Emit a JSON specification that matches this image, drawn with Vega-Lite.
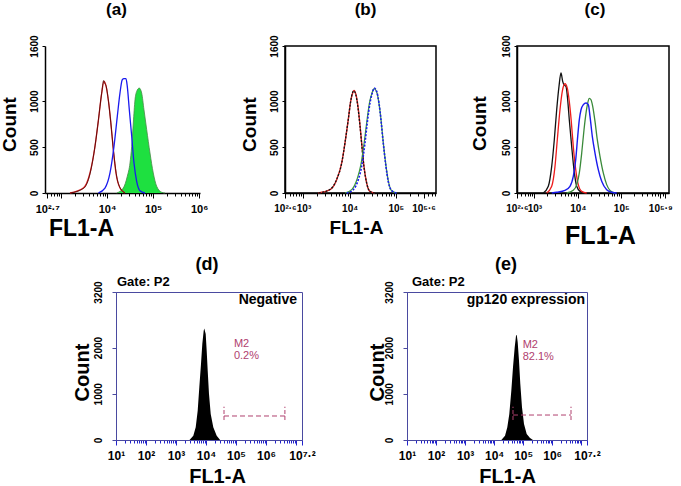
{
  "$schema": "https://vega.github.io/schema/vega-lite/v6.json",
  "padding": 0,
  "background": "white",
  "config": {
    "font": "Liberation Sans",
    "view": {"stroke": null},
    "axis": {"grid": false, "labelOverlap": false, "labelFlush": false, "labelBound": false, "labelColor": "black", "titleColor": "black", "tickColor": "black", "domainColor": "black", "labelFont": "Liberation Sans", "titleFont": "Liberation Sans"},
    "title": {"fontSize": 17, "fontWeight": "bold", "font": "Liberation Sans", "frame": "group", "offset": 16, "color": "black"}
  },
  "bounds": "flush",
  "spacing": 246,
  "resolve": {"scale": {"x": "independent", "y": "independent"}},
  "datasets": {
    "a_black": [{"log_fl1":3.2,"count":0},{"log_fl1":3.49,"count":50},{"log_fl1":3.63,"count":210},{"log_fl1":3.74,"count":520},{"log_fl1":3.81,"count":790},{"log_fl1":3.88,"count":1080},{"log_fl1":3.925,"count":1225},{"log_fl1":3.95,"count":1190},{"log_fl1":3.975,"count":1170},{"log_fl1":4.03,"count":1000},{"log_fl1":4.08,"count":770},{"log_fl1":4.14,"count":460},{"log_fl1":4.2,"count":210},{"log_fl1":4.29,"count":50},{"log_fl1":4.39,"count":0}],
    "a_red": [{"log_fl1":3.193,"count":0},{"log_fl1":3.483,"count":54},{"log_fl1":3.628,"count":218},{"log_fl1":3.737,"count":508},{"log_fl1":3.809,"count":783},{"log_fl1":3.883,"count":1088},{"log_fl1":3.933,"count":1215},{"log_fl1":3.97,"count":1180},{"log_fl1":4.026,"count":1015},{"log_fl1":4.078,"count":783},{"log_fl1":4.135,"count":471},{"log_fl1":4.193,"count":218},{"log_fl1":4.28,"count":54},{"log_fl1":4.389,"count":0}],
    "a_blue": [{"log_fl1":3.809,"count":0},{"log_fl1":3.954,"count":54},{"log_fl1":4.063,"count":218},{"log_fl1":4.15,"count":508},{"log_fl1":4.222,"count":834},{"log_fl1":4.28,"count":1088},{"log_fl1":4.33,"count":1233},{"log_fl1":4.367,"count":1244},{"log_fl1":4.411,"count":1244},{"log_fl1":4.439,"count":1161},{"log_fl1":4.483,"count":906},{"log_fl1":4.535,"count":617},{"log_fl1":4.585,"count":326},{"log_fl1":4.643,"count":127},{"log_fl1":4.715,"count":25},{"log_fl1":4.824,"count":0}],
    "a_green": [{"log_fl1":4.209,"count":0},{"log_fl1":4.352,"count":54},{"log_fl1":4.439,"count":181},{"log_fl1":4.498,"count":326},{"log_fl1":4.535,"count":508},{"log_fl1":4.57,"count":762},{"log_fl1":4.607,"count":1015},{"log_fl1":4.643,"count":1106},{"log_fl1":4.7,"count":1142},{"log_fl1":4.752,"count":1088},{"log_fl1":4.802,"count":906},{"log_fl1":4.861,"count":689},{"log_fl1":4.933,"count":435},{"log_fl1":5.004,"count":218},{"log_fl1":5.078,"count":73},{"log_fl1":5.187,"count":8},{"log_fl1":5.259,"count":0}],
    "b_red": [{"log_fl1":3.321,"count":0},{"log_fl1":3.574,"count":36},{"log_fl1":3.719,"count":145},{"log_fl1":3.827,"count":326},{"log_fl1":3.899,"count":544},{"log_fl1":3.97,"count":798},{"log_fl1":4.022,"count":997},{"log_fl1":4.065,"count":1088},{"log_fl1":4.094,"count":1117},{"log_fl1":4.137,"count":1070},{"log_fl1":4.18,"count":943},{"log_fl1":4.223,"count":743},{"log_fl1":4.267,"count":508},{"log_fl1":4.31,"count":290},{"log_fl1":4.368,"count":109},{"log_fl1":4.44,"count":18},{"log_fl1":4.548,"count":0}],
    "b_black": [{"log_fl1":3.33,"count":0},{"log_fl1":3.58,"count":40},{"log_fl1":3.72,"count":150},{"log_fl1":3.83,"count":330},{"log_fl1":3.9,"count":550},{"log_fl1":3.97,"count":800},{"log_fl1":4.02,"count":990},{"log_fl1":4.06,"count":1090},{"log_fl1":4.09,"count":1110},{"log_fl1":4.13,"count":1075},{"log_fl1":4.175,"count":950},{"log_fl1":4.22,"count":750},{"log_fl1":4.265,"count":510},{"log_fl1":4.31,"count":285},{"log_fl1":4.37,"count":105},{"log_fl1":4.44,"count":15},{"log_fl1":4.55,"count":0}],
    "b_green": [{"log_fl1":3.9,"count":0},{"log_fl1":4.05,"count":40},{"log_fl1":4.16,"count":150},{"log_fl1":4.24,"count":300},{"log_fl1":4.315,"count":550},{"log_fl1":4.37,"count":770},{"log_fl1":4.43,"count":985},{"log_fl1":4.485,"count":1090},{"log_fl1":4.53,"count":1135},{"log_fl1":4.585,"count":1100},{"log_fl1":4.635,"count":975},{"log_fl1":4.68,"count":795},{"log_fl1":4.73,"count":540},{"log_fl1":4.79,"count":285},{"log_fl1":4.84,"count":125},{"log_fl1":4.91,"count":25},{"log_fl1":5.02,"count":0}],
    "b_blue": [{"log_fl1":3.935,"count":0},{"log_fl1":4.078,"count":36},{"log_fl1":4.187,"count":145},{"log_fl1":4.26,"count":290},{"log_fl1":4.332,"count":544},{"log_fl1":4.381,"count":762},{"log_fl1":4.44,"count":979},{"log_fl1":4.49,"count":1088},{"log_fl1":4.533,"count":1142},{"log_fl1":4.585,"count":1106},{"log_fl1":4.635,"count":979},{"log_fl1":4.678,"count":798},{"log_fl1":4.728,"count":544},{"log_fl1":4.786,"count":290},{"log_fl1":4.836,"count":127},{"log_fl1":4.909,"count":25},{"log_fl1":5.018,"count":0}],
    "c_black": [{"log_fl1":3.206,"count":0},{"log_fl1":3.321,"count":73},{"log_fl1":3.399,"count":290},{"log_fl1":3.459,"count":580},{"log_fl1":3.514,"count":906},{"log_fl1":3.567,"count":1161},{"log_fl1":3.613,"count":1306},{"log_fl1":3.652,"count":1215},{"log_fl1":3.682,"count":1178},{"log_fl1":3.728,"count":1161},{"log_fl1":3.767,"count":1015},{"log_fl1":3.804,"count":798},{"log_fl1":3.859,"count":508},{"log_fl1":3.912,"count":254},{"log_fl1":3.975,"count":73},{"log_fl1":4.051,"count":18},{"log_fl1":4.166,"count":0}],
    "c_red": [{"log_fl1":3.284,"count":0},{"log_fl1":3.399,"count":73},{"log_fl1":3.475,"count":290},{"log_fl1":3.528,"count":580},{"log_fl1":3.59,"count":906},{"log_fl1":3.643,"count":1106},{"log_fl1":3.705,"count":1189},{"log_fl1":3.758,"count":1142},{"log_fl1":3.804,"count":997},{"log_fl1":3.85,"count":780},{"log_fl1":3.896,"count":508},{"log_fl1":3.952,"count":254},{"log_fl1":4.011,"count":91},{"log_fl1":4.09,"count":18},{"log_fl1":4.205,"count":0}],
    "c_blue": [{"log_fl1":3.4,"count":0},{"log_fl1":3.514,"count":8},{"log_fl1":3.705,"count":29},{"log_fl1":3.82,"count":73},{"log_fl1":3.896,"count":181},{"log_fl1":3.952,"count":362},{"log_fl1":3.998,"count":617},{"log_fl1":4.035,"count":798},{"log_fl1":4.074,"count":906},{"log_fl1":4.127,"count":961},{"log_fl1":4.189,"count":979},{"log_fl1":4.242,"count":961},{"log_fl1":4.281,"count":834},{"log_fl1":4.334,"count":617},{"log_fl1":4.396,"count":435},{"log_fl1":4.472,"count":254},{"log_fl1":4.55,"count":127},{"log_fl1":4.665,"count":36},{"log_fl1":4.781,"count":8},{"log_fl1":4.896,"count":0}],
    "c_green": [{"log_fl1":3.744,"count":0},{"log_fl1":3.896,"count":29},{"log_fl1":3.975,"count":91},{"log_fl1":4.035,"count":218},{"log_fl1":4.09,"count":435},{"log_fl1":4.143,"count":689},{"log_fl1":4.189,"count":870},{"log_fl1":4.228,"count":979},{"log_fl1":4.265,"count":1030},{"log_fl1":4.304,"count":1015},{"log_fl1":4.343,"count":943},{"log_fl1":4.396,"count":780},{"log_fl1":4.449,"count":580},{"log_fl1":4.511,"count":399},{"log_fl1":4.587,"count":218},{"log_fl1":4.665,"count":91},{"log_fl1":4.741,"count":29},{"log_fl1":4.857,"count":0}],
    "d_black": [{"log_fl1":3.45,"count":0},{"log_fl1":3.577,"count":93},{"log_fl1":3.657,"count":274},{"log_fl1":3.723,"count":634},{"log_fl1":3.777,"count":1139},{"log_fl1":3.833,"count":1643},{"log_fl1":3.877,"count":2076},{"log_fl1":3.923,"count":2363},{"log_fl1":3.943,"count":2413},{"log_fl1":3.99,"count":2292},{"log_fl1":4.023,"count":1931},{"log_fl1":4.057,"count":1499},{"log_fl1":4.1,"count":995},{"log_fl1":4.157,"count":562},{"log_fl1":4.243,"count":274},{"log_fl1":4.357,"count":93},{"log_fl1":4.47,"count":0}],
    "e_black": [{"log_fl1":4.25,"count":0},{"log_fl1":4.376,"count":93},{"log_fl1":4.455,"count":274},{"log_fl1":4.524,"count":562},{"log_fl1":4.593,"count":1066},{"log_fl1":4.651,"count":1572},{"log_fl1":4.71,"count":2004},{"log_fl1":4.755,"count":2255},{"log_fl1":4.779,"count":2277},{"log_fl1":4.813,"count":2112},{"log_fl1":4.858,"count":1714},{"log_fl1":4.903,"count":1211},{"log_fl1":4.961,"count":707},{"log_fl1":5.03,"count":346},{"log_fl1":5.123,"count":130},{"log_fl1":5.237,"count":43},{"log_fl1":5.34,"count":0}],
    "d_gate": [{"log_fl1": 4.6, "log_fl1_end": 6.63, "count": 519}],
    "d_gate_ends": [{"log_fl1": 4.6, "count": 432, "count_top": 720}, {"log_fl1": 6.63, "count": 432, "count_top": 720}],
    "d_marker": [{"log_fl1": 4.93, "count": 2075, "label": "M2"}, {"log_fl1": 4.93, "count": 1815, "label": "0.2%"}],
    "d_sample": [{"log_fl1": 7.2, "count": 3027, "label": "Negative"}],
    "d_gate_name": [{"log_fl1": 1, "count": 3200, "label": "Gate: P2"}],
    "e_gate": [{"log_fl1": 4.651, "log_fl1_end": 6.649, "count": 540}],
    "e_gate_ends": [{"log_fl1": 4.651, "count": 432, "count_top": 720}, {"log_fl1": 6.649, "count": 432, "count_top": 720}],
    "e_marker": [{"log_fl1": 4.985, "count": 2055, "label": "M2"}, {"log_fl1": 4.985, "count": 1795, "label": "82.1%"}],
    "e_sample": [{"log_fl1": 7.2, "count": 3027, "label": "gp120 expression"}],
    "e_gate_name": [{"log_fl1": 1, "count": 3200, "label": "Gate: P2"}]
  },
  "vconcat": [
    {
      "bounds": "flush",
      "spacing": 0,
      "resolve": {"scale": {"x": "independent", "y": "independent"}},
      "hconcat": [
        {"width": 1, "height": 1, "data": {"values": [{}]}, "mark": {"type": "point", "opacity": 0}},
        {
          "width": 155, "height": 147,
          "title": {"text": "(a)", "dx": -6},
          "encoding": {
            "x": {"field": "log_fl1", "type": "quantitative", "scale": {"domain": [2.65, 6.02], "nice": false, "zero": false},
              "axis": {"title": "FL1-A", "values": [2.7,2.778,2.845,2.903,2.954,3,3.301,3.477,3.602,3.699,3.778,3.845,3.903,3.954,4,4.301,4.477,4.602,4.699,4.778,4.845,4.903,4.954,5,5.301,5.477,5.602,5.699,5.778,5.845,5.903,5.954,6],
                "labelExpr": "datum.value == 2.7 ? '10²·⁷' : datum.value == 4 ? '10⁴' : datum.value == 5 ? '10⁵' : datum.value == 6 ? '10⁶' : ''",
                "tickSize": {"condition": {"test": "round(datum.value) == datum.value || datum.value == 2.7", "value": 5}, "value": 3},
                "domainWidth": 1.5, "labelFontSize": 11, "labelFontWeight": "bold", "labelPadding": 5,
                "titleFontSize": 23, "titleFontWeight": "bold", "titleX": 36, "titleY": 42, "titleBaseline": "alphabetic", "titleAlign": "center"}},
            "y": {"field": "count", "type": "quantitative", "scale": {"domain": [0, 1600], "nice": false},
              "axis": {"title": "Count", "values": [0, 500, 1000, 1600], "format": "d", "labelAngle": -90, "labelAlign": "center", "labelBaseline": "bottom", "labelFontSize": 10, "labelFontWeight": "bold", "tickSize": 3, "labelPadding": 3, "domainWidth": 1.5,
                "titleFontSize": 19, "titleFontWeight": "bold", "titleAngle": -90, "titleX": -30, "titleY": 78, "titleBaseline": "alphabetic", "titleAlign": "center"}}
          },
          "layer": [
            {"data": {"name": "a_green"}, "mark": {"type": "area", "color": "#1ee040", "opacity": 1, "interpolate": "monotone", "line": {"color": "#4a8a4a", "strokeWidth": 0.8}}},
            {"data": {"name": "a_red"}, "mark": {"type": "line", "color": "#d42020", "strokeWidth": 1.3, "interpolate": "monotone"}},
            {"data": {"name": "a_black"}, "mark": {"type": "line", "color": "#3a0000", "strokeWidth": 0.9, "opacity": 0.8, "interpolate": "monotone"}},
            {"data": {"name": "a_blue"}, "mark": {"type": "line", "color": "#1a1aee", "strokeWidth": 1.3, "interpolate": "monotone"}}
          ]
        },
        {"width": 85, "height": 1, "data": {"values": [{}]}, "mark": {"type": "point", "opacity": 0}},
        {
          "width": 151, "height": 147,
          "title": {"text": "(b)", "dx": 5},
          "view": {"stroke": "black", "strokeWidth": 1.5},
          "encoding": {
            "x": {"field": "log_fl1", "type": "quantitative", "scale": {"domain": [2.6, 5.87], "nice": false, "zero": false},
              "axis": {"title": "FL1-A", "values": [2.6,2.699,2.778,2.845,2.903,2.954,3,3.301,3.477,3.602,3.699,3.778,3.845,3.903,3.954,4,4.301,4.477,4.602,4.699,4.778,4.845,4.903,4.954,5,5.301,5.477,5.6,5.699,5.778,5.845],
                "labelExpr": "datum.value == 2.6 ? '10²·⁶' : datum.value == 3 ? '10³' : datum.value == 4 ? '10⁴' : datum.value == 5 ? '10⁵' : datum.value == 5.6 ? '10⁵·⁶' : ''",
                "tickSize": {"condition": {"test": "round(datum.value) == datum.value || datum.value == 2.6 || datum.value == 5.6", "value": 5}, "value": 3},
                "domainWidth": 1.5, "labelFontSize": 10, "labelFontWeight": "bold", "labelPadding": 5,
                "titleFontSize": 19, "titleFontWeight": "bold", "titleX": 71, "titleY": 40, "titleBaseline": "alphabetic", "titleAlign": "center"}},
            "y": {"field": "count", "type": "quantitative", "scale": {"domain": [0, 1600], "nice": false},
              "axis": {"title": "Count", "values": [0, 500, 1000, 1600], "format": "d", "labelAngle": -90, "labelAlign": "center", "labelBaseline": "bottom", "labelFontSize": 10, "labelFontWeight": "bold", "tickSize": 3, "labelPadding": 3, "domainWidth": 1.5,
                "titleFontSize": 19, "titleFontWeight": "bold", "titleAngle": -90, "titleX": -30, "titleY": 78, "titleBaseline": "alphabetic", "titleAlign": "center"}}
          },
          "layer": [
            {"data": {"name": "b_red"}, "mark": {"type": "line", "color": "#d42020", "strokeWidth": 1.4, "interpolate": "monotone"}},
            {"data": {"name": "b_black"}, "mark": {"type": "line", "color": "#111111", "strokeWidth": 1.3, "strokeDash": [2, 1.5], "interpolate": "monotone"}},
            {"data": {"name": "b_green"}, "mark": {"type": "line", "color": "#3a9a3a", "strokeWidth": 1.2, "interpolate": "monotone"}},
            {"data": {"name": "b_blue"}, "mark": {"type": "line", "color": "#1a1aee", "strokeWidth": 1.6, "strokeDash": [2, 1.5], "interpolate": "monotone"}}
          ]
        },
        {"width": 81, "height": 1, "data": {"values": [{}]}, "mark": {"type": "point", "opacity": 0}},
        {
          "width": 152, "height": 147,
          "title": {"text": "(c)", "dx": 2},
          "view": {"stroke": "black", "strokeWidth": 1.5},
          "encoding": {
            "x": {"field": "log_fl1", "type": "quantitative", "scale": {"domain": [2.6, 6.1], "nice": false, "zero": false},
              "axis": {"title": "FL1-A", "values": [2.6,2.699,2.778,2.845,2.903,2.954,3,3.301,3.477,3.602,3.699,3.778,3.845,3.903,3.954,4,4.301,4.477,4.602,4.699,4.778,4.845,4.903,4.954,5,5.301,5.477,5.602,5.699,5.778,5.845,5.9,5.954,6],
                "labelExpr": "datum.value == 2.6 ? '10²·⁶' : datum.value == 3 ? '10³' : datum.value == 4 ? '10⁴' : datum.value == 5 ? '10⁵' : datum.value == 5.9 ? '10⁵·⁹' : ''",
                "tickSize": {"condition": {"test": "round(datum.value) == datum.value || datum.value == 2.6 || datum.value == 5.9", "value": 5}, "value": 3},
                "domainWidth": 1.5, "labelFontSize": 10, "labelFontWeight": "bold", "labelPadding": 5,
                "titleFontSize": 25, "titleFontWeight": "bold", "titleX": 83, "titleY": 50, "titleBaseline": "alphabetic", "titleAlign": "center"}},
            "y": {"field": "count", "type": "quantitative", "scale": {"domain": [0, 1600], "nice": false},
              "axis": {"title": "Count", "values": [0, 500, 1000, 1600], "format": "d", "labelAngle": -90, "labelAlign": "center", "labelBaseline": "bottom", "labelFontSize": 10, "labelFontWeight": "bold", "tickSize": 3, "labelPadding": 3, "domainWidth": 1.5,
                "titleFontSize": 19, "titleFontWeight": "bold", "titleAngle": -90, "titleX": -32, "titleY": 77, "titleBaseline": "alphabetic", "titleAlign": "center"}}
          },
          "layer": [
            {"data": {"name": "c_black"}, "mark": {"type": "line", "color": "#111111", "strokeWidth": 1.3, "interpolate": "monotone"}},
            {"data": {"name": "c_red"}, "mark": {"type": "line", "color": "#ee1c1c", "strokeWidth": 1.3, "interpolate": "monotone"}},
            {"data": {"name": "c_green"}, "mark": {"type": "line", "color": "#3a8a3a", "strokeWidth": 1.3, "interpolate": "monotone"}},
            {"data": {"name": "c_blue"}, "mark": {"type": "line", "color": "#1a1aee", "strokeWidth": 1.4, "interpolate": "monotone"}}
          ]
        }
      ]
    },
    {
      "bounds": "flush",
      "spacing": 0,
      "resolve": {"scale": {"x": "independent", "y": "independent"}},
      "hconcat": [
        {"width": 72, "height": 1, "data": {"values": [{}]}, "mark": {"type": "point", "opacity": 0}},
        {
          "width": 186, "height": 148,
          "title": {"text": "(d)", "dx": -2, "fontSize": 18, "offset": 2},
          "view": {"stroke": "#4a4aa0", "strokeWidth": 1},
          "encoding": {
            "x": {"field": "log_fl1", "type": "quantitative", "scale": {"domain": [1, 7.2], "nice": false, "zero": false},
              "axis": {"title": "FL1-A", "values": [1,1.301,1.477,1.602,1.699,1.778,1.845,1.903,1.954,2,2.301,2.477,2.602,2.699,2.778,2.845,2.903,2.954,3,3.301,3.477,3.602,3.699,3.778,3.845,3.903,3.954,4,4.301,4.477,4.602,4.699,4.778,4.845,4.903,4.954,5,5.301,5.477,5.602,5.699,5.778,5.845,5.903,5.954,6,6.301,6.477,6.602,6.699,6.778,6.845,6.903,6.954,7,7.2],
                "labelExpr": "datum.value == 1 ? '10¹' : datum.value == 2 ? '10²' : datum.value == 3 ? '10³' : datum.value == 4 ? '10⁴' : datum.value == 5 ? '10⁵' : datum.value == 6 ? '10⁶' : datum.value == 7.2 ? '10⁷·²' : ''",
                "tickSize": {"condition": {"test": "round(datum.value) == datum.value || datum.value == 7.2", "value": 5}, "value": 3},
                "tickColor": "#2222cc", "domainColor": "#4a4aa0", "labelFontSize": 12, "labelFontWeight": "bold", "labelPadding": 5,
                "titleFontSize": 20, "titleFontWeight": "bold", "titleX": 101, "titleY": 42, "titleBaseline": "alphabetic", "titleAlign": "center"}},
            "y": {"field": "count", "type": "quantitative", "scale": {"domain": [0, 3200], "nice": false},
              "axis": {"title": "Count", "values": [0, 1000, 2000, 3200], "format": "d", "labelAngle": -90, "labelAlign": "center", "labelBaseline": "bottom", "labelFontSize": 10, "labelFontWeight": "bold", "tickSize": 4, "labelPadding": 9, "tickColor": "#4a4aa0", "domainColor": "#4a4aa0",
                "titleFontSize": 20, "titleFontWeight": "bold", "titleAngle": -90, "titleX": -28, "titleY": 80, "titleBaseline": "alphabetic", "titleAlign": "center"}}
          },
          "layer": [
            {"data": {"name": "d_black"}, "mark": {"type": "area", "color": "black", "opacity": 1, "interpolate": "linear"}},
            {"data": {"name": "d_gate"}, "mark": {"type": "rule", "color": "#b0406e", "strokeDash": [5, 3], "strokeWidth": 1}, "encoding": {"x2": {"field": "log_fl1_end"}}},
            {"data": {"name": "d_gate_ends"}, "mark": {"type": "rule", "color": "#b0406e", "strokeDash": [4, 2], "strokeWidth": 1}, "encoding": {"y2": {"field": "count_top"}}},
            {"data": {"name": "d_marker"}, "mark": {"type": "text", "align": "left", "baseline": "middle", "fontSize": 11, "color": "#b0406e"}, "encoding": {"text": {"field": "label"}}},
            {"data": {"name": "d_sample"}, "mark": {"type": "text", "align": "right", "baseline": "middle", "fontSize": 14, "fontWeight": "bold", "color": "black", "dx": -5}, "encoding": {"text": {"field": "label"}}},
            {"data": {"name": "d_gate_name"}, "mark": {"type": "text", "align": "left", "baseline": "alphabetic", "fontSize": 13, "fontWeight": "bold", "color": "black", "dx": 1, "dy": -6}, "encoding": {"text": {"field": "label"}}}
          ]
        },
        {"width": 105, "height": 1, "data": {"values": [{}]}, "mark": {"type": "point", "opacity": 0}},
        {
          "width": 180, "height": 148,
          "title": {"text": "(e)", "dx": 9, "fontSize": 18, "offset": 2},
          "view": {"stroke": "#4a4aa0", "strokeWidth": 1},
          "encoding": {
            "x": {"field": "log_fl1", "type": "quantitative", "scale": {"domain": [1, 7.2], "nice": false, "zero": false},
              "axis": {"title": "FL1-A", "values": [1,1.301,1.477,1.602,1.699,1.778,1.845,1.903,1.954,2,2.301,2.477,2.602,2.699,2.778,2.845,2.903,2.954,3,3.301,3.477,3.602,3.699,3.778,3.845,3.903,3.954,4,4.301,4.477,4.602,4.699,4.778,4.845,4.903,4.954,5,5.301,5.477,5.602,5.699,5.778,5.845,5.903,5.954,6,6.301,6.477,6.602,6.699,6.778,6.845,6.903,6.954,7,7.2],
                "labelExpr": "datum.value == 1 ? '10¹' : datum.value == 2 ? '10²' : datum.value == 3 ? '10³' : datum.value == 4 ? '10⁴' : datum.value == 5 ? '10⁵' : datum.value == 6 ? '10⁶' : datum.value == 7.2 ? '10⁷·²' : ''",
                "tickSize": {"condition": {"test": "round(datum.value) == datum.value || datum.value == 7.2", "value": 5}, "value": 3},
                "tickColor": "#2222cc", "domainColor": "#4a4aa0", "labelFontSize": 12, "labelFontWeight": "bold", "labelPadding": 5,
                "titleFontSize": 20, "titleFontWeight": "bold", "titleX": 100, "titleY": 42, "titleBaseline": "alphabetic", "titleAlign": "center"}},
            "y": {"field": "count", "type": "quantitative", "scale": {"domain": [0, 3200], "nice": false},
              "axis": {"title": "Count", "values": [0, 1000, 2000, 3200], "format": "d", "labelAngle": -90, "labelAlign": "center", "labelBaseline": "bottom", "labelFontSize": 10, "labelFontWeight": "bold", "tickSize": 4, "labelPadding": 9, "tickColor": "#4a4aa0", "domainColor": "#4a4aa0",
                "titleFontSize": 20, "titleFontWeight": "bold", "titleAngle": -90, "titleX": -24, "titleY": 80, "titleBaseline": "alphabetic", "titleAlign": "center"}}
          },
          "layer": [
            {"data": {"name": "e_black"}, "mark": {"type": "area", "color": "black", "opacity": 1, "interpolate": "linear"}},
            {"data": {"name": "e_gate"}, "mark": {"type": "rule", "color": "#b0406e", "strokeDash": [5, 3], "strokeWidth": 1}, "encoding": {"x2": {"field": "log_fl1_end"}}},
            {"data": {"name": "e_gate_ends"}, "mark": {"type": "rule", "color": "#b0406e", "strokeDash": [4, 2], "strokeWidth": 1}, "encoding": {"y2": {"field": "count_top"}}},
            {"data": {"name": "e_marker"}, "mark": {"type": "text", "align": "left", "baseline": "middle", "fontSize": 11, "color": "#b0406e"}, "encoding": {"text": {"field": "label"}}},
            {"data": {"name": "e_sample"}, "mark": {"type": "text", "align": "right", "baseline": "middle", "fontSize": 14, "fontWeight": "bold", "color": "black", "dx": -2}, "encoding": {"text": {"field": "label"}}},
            {"data": {"name": "e_gate_name"}, "mark": {"type": "text", "align": "left", "baseline": "alphabetic", "fontSize": 13, "fontWeight": "bold", "color": "black", "dx": 5, "dy": -6}, "encoding": {"text": {"field": "label"}}}
          ]
        }
      ]
    }
  ]
}
